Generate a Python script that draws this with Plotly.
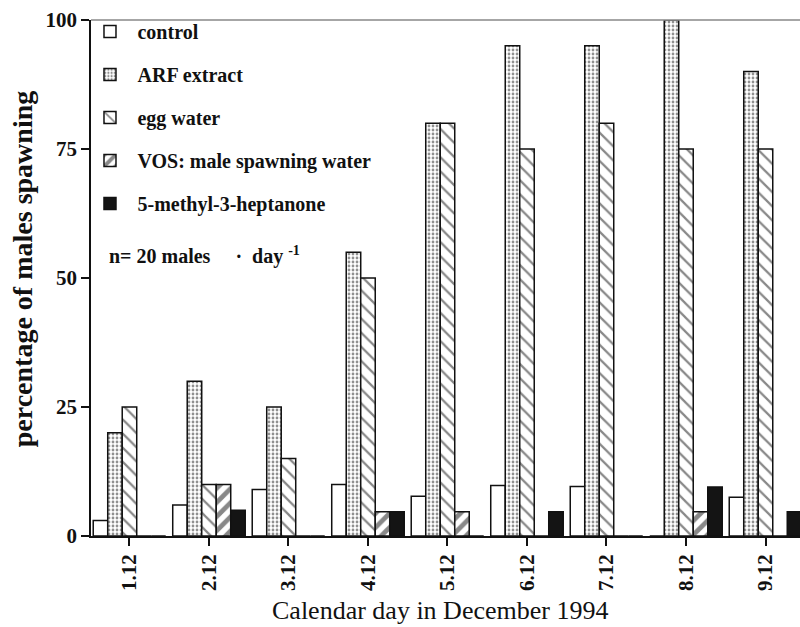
import plotly.graph_objects as go

days = ["1.12", "2.12", "3.12", "4.12", "5.12", "6.12", "7.12", "8.12", "9.12"]
control = [3, 6, 9, 10, 7.7, 9.8, 9.6, 0, 7.5]
arf = [20, 30, 25, 55, 80, 95, 95, 100, 90]
egg = [25, 10, 15, 50, 80, 75, 80, 75, 75]
vos = [0, 10, 0, 4.7, 4.7, 0, 0, 4.7, 0]
methyl = [0, 5, 0, 4.7, 0, 4.7, 0, 9.5, 4.7]

series_names = ["control", "ARF extract", "egg water", "VOS: male spawning water", "5-methyl-3-heptanone"]

xpos = list(range(len(days)))
FONT = "Liberation Serif"

fig = go.Figure()

styles = [
    dict(color="white"),
    dict(color="white", pattern=dict(shape=".", fgcolor="#222", bgcolor="white", size=4, solidity=0.38)),
    dict(color="white", pattern=dict(shape="\\", fgcolor="#111", bgcolor="white", size=10, solidity=0.22)),
    dict(color="white", pattern=dict(shape="/", fgcolor="#111", bgcolor="white", size=10, solidity=0.48)),
    dict(color="#141414"),
]
for i, (name, vals) in enumerate(zip(series_names, [control, arf, egg, vos, methyl])):
    m = dict(styles[i])
    m["line"] = dict(color="#111", width=1.5)
    fig.add_trace(go.Bar(x=xpos, y=vals, name=name, marker=m, legendgroup=f"g{i}"))

fig.update_layout(
    width=800, height=627,
    margin=dict(l=91, r=0, t=20, b=91),
    paper_bgcolor="white", plot_bgcolor="white",
    barmode="group", bargap=0.088, bargroupgap=0,
    font=dict(family=FONT, color="#111"),
    showlegend=True,
    legend=dict(
        x=-0.012, y=1.0155, xanchor="left", yanchor="top",
        bgcolor="rgba(0,0,0,0)", borderwidth=0,
        font=dict(family=FONT, size=20, weight="bold", color="#111"),
        tracegroupgap=14, itemwidth=45,
    ),
    xaxis=dict(
        range=[-0.484, 8.434], tickvals=xpos, ticktext=days, tickangle=-90,
        showline=True, linecolor="#111", linewidth=1.5, ticks="outside", ticklen=8,
        tickcolor="#111", tickwidth=1.5, showgrid=False, zeroline=False,
        tickfont=dict(family=FONT, size=21, weight="bold", color="#111"),
    ),
    yaxis=dict(
        range=[0, 100], tickvals=[0, 25, 50, 75, 100],
        showline=True, linecolor="#111", linewidth=1.5, ticks="outside", ticklen=8,
        tickcolor="#111", tickwidth=1.5, showgrid=False, zeroline=False,
        tickfont=dict(family=FONT, size=21, weight="bold", color="#111"),
    ),
)

fig.add_shape(type="line", xref="paper", yref="paper", x0=0, x1=1, y0=1, y1=1,
              line=dict(color="#888", width=1.5))

fig.add_annotation(text="percentage of males spawning", xref="paper", yref="paper",
                   x=0, y=0.517, xshift=-69, textangle=-90, showarrow=False,
                   xanchor="center", yanchor="middle",
                   font=dict(family=FONT, size=28, weight="bold", color="#111"))
fig.add_annotation(text="Calendar day in December 1994", xref="paper", yref="paper",
                   x=0.492, y=-0.145, showarrow=False, xanchor="center", yanchor="middle",
                   font=dict(family=FONT, size=26, color="#111"))
fig.add_annotation(text="n= 20 males\u00a0\u00a0\u00a0\u00a0\u00a0·\u00a0 day <sup>-1</sup>",
                   xref="paper", yref="paper", x=0.0226, y=0.543, showarrow=False,
                   xanchor="left", yanchor="middle",
                   font=dict(family=FONT, size=20, weight="bold", color="#111"))

fig.write_html("out.html")
